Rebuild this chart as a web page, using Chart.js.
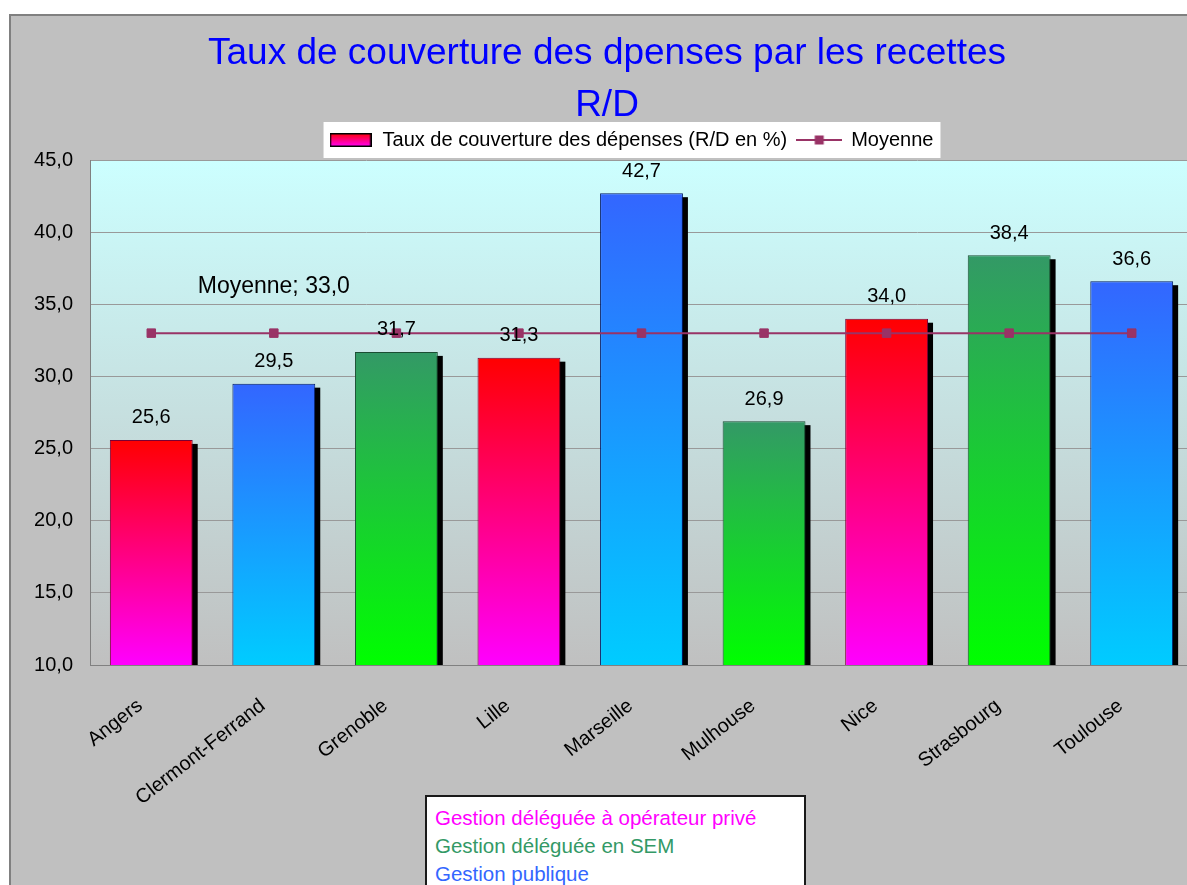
<!DOCTYPE html>
<html>
<head>
<meta charset="utf-8">
<script src="https://cdn.jsdelivr.net/npm/chart.js@4.4.1/dist/chart.umd.min.js"></script>
<style>
html,body{margin:0;padding:0;background:#fff;overflow:hidden;width:1187px;height:885px;}
#frame{position:absolute;left:9px;top:14px;width:1200px;height:900px;background:#c0c0c0;border-left:2px solid #808080;border-top:2px solid #808080;}
#c{position:absolute;left:0;top:0;}
#note{position:absolute;left:425px;top:795px;width:381px;height:120px;background:#fff;border:2px solid #1a1a1a;box-sizing:border-box;padding:7px 0 0 8px;font:20.5px "Liberation Sans",Arial,sans-serif;line-height:28px;}
</style>
</head>
<body>
<div id="frame"></div>
<canvas id="c" width="1200" height="885"></canvas>
<div id="note"></div>
<script>
// ---------- data ----------
const categories = ['Angers', 'Clermont-Ferrand', 'Grenoble', 'Lille', 'Marseille', 'Mulhouse', 'Nice', 'Strasbourg', 'Toulouse'];
const tauxValues = [25.6, 29.5, 31.7, 31.3, 42.7, 26.9, 34.0, 38.4, 36.6];
const gestionTypes = ['prive', 'public', 'sem', 'prive', 'public', 'sem', 'prive', 'sem', 'public'];
const moyenneValues = [33.0, 33.0, 33.0, 33.0, 33.0, 33.0, 33.0, 33.0, 33.0];
const yMin = 10;
const yMax = 45;
const yStep = 5;
const titleLines = ['Taux de couverture des dpenses par les recettes', 'R/D'];
const seriesNames = ['Taux de couverture des dépenses (R/D en %)', 'Moyenne'];
const gestionNotes = ['Gestion déléguée à opérateur privé', 'Gestion déléguée en SEM', 'Gestion publique'];
const gestionNoteKeys = ['prive', 'sem', 'public'];

// ---------- styles ----------
const FONT = '"Liberation Sans", Arial, sans-serif';
const palette = {
  prive:  { top: '#ff0000', bottom: '#ff00ff', border: '#7a0033', text: '#ff00ff' },
  sem:    { top: '#339966', bottom: '#00ff00', border: '#1a4d33', text: '#339966' },
  public: { top: '#3366ff', bottom: '#00ccff', border: '#001a66', text: '#3366ff' }
};
const lineColor = '#993366';
const fmt = v => v.toFixed(1).replace('.', ',');

// bottom note (HTML text)
const note = document.getElementById('note');
gestionNotes.forEach((t, i) => {
  const d = document.createElement('div');
  d.textContent = t;
  d.style.color = palette[gestionNoteKeys[i]].text;
  note.appendChild(d);
});

// legend symbols
function makeBoxSymbol() {
  const c = document.createElement('canvas');
  c.width = 42; c.height = 14;
  const x = c.getContext('2d');
  const g = x.createLinearGradient(0, 0, 0, 14);
  g.addColorStop(0, palette.prive.top);
  g.addColorStop(1, palette.prive.bottom);
  x.fillStyle = g;
  x.fillRect(0, 0, 42, 14);
  x.strokeStyle = '#000';
  x.lineWidth = 1.5;
  x.strokeRect(0.75, 0.75, 40.5, 12.5);
  return c;
}
function makeLineSymbol() {
  const c = document.createElement('canvas');
  c.width = 46; c.height = 12;
  const x = c.getContext('2d');
  x.strokeStyle = lineColor;
  x.lineWidth = 2;
  x.beginPath(); x.moveTo(0, 6); x.lineTo(46, 6); x.stroke();
  x.fillStyle = lineColor;
  x.fillRect(18.5, 1.5, 9, 9);
  return c;
}
const boxSym = makeBoxSymbol();
const lineSym = makeLineSymbol();

function barGradient(ctx) {
  const chart = ctx.chart;
  const key = gestionTypes[ctx.dataIndex];
  const p = palette[key] || palette.public;
  const area = chart.chartArea;
  if (!area || ctx.type !== 'data') return p.top;
  const yTop = chart.scales.y.getPixelForValue(ctx.raw);
  const g = chart.ctx.createLinearGradient(0, yTop, 0, area.bottom);
  g.addColorStop(0, p.top);
  g.addColorStop(1, p.bottom);
  return g;
}

const decor = {
  id: 'decor',
  afterLayout(chart) {
    if (chart.titleBlock) { chart.titleBlock.left += 10; chart.titleBlock.right += 10; }
    if (chart.legend) { chart.legend.left += 34; chart.legend.right += 34; }
  },
  beforeDraw(chart) {
    const { ctx, chartArea: a } = chart;
    ctx.save();
    const g = ctx.createLinearGradient(0, a.top, 0, a.bottom);
    g.addColorStop(0, '#ccffff');
    g.addColorStop(1, '#c0c0c0');
    ctx.fillStyle = g;
    ctx.fillRect(a.left, a.top, a.right - a.left, a.bottom - a.top);
    const lg = chart.legend;
    const hb = lg && lg.legendHitBoxes;
    if (hb && hb.length) {
      const l = Math.min(...hb.map(h => h.left)) - 5;
      const r = Math.max(...hb.map(h => h.left + h.width)) + 7;
      ctx.fillStyle = '#ffffff';
      ctx.fillRect(l, lg.top + 2, r - l, lg.bottom - lg.top - 4);
    }
    ctx.restore();
  },
  beforeDatasetsDraw(chart) {
    const { ctx, chartArea: a } = chart;
    const meta = chart.getDatasetMeta(0);
    ctx.save();
    ctx.beginPath();
    ctx.rect(a.left, a.top, a.right - a.left, a.bottom - a.top);
    ctx.clip();
    ctx.fillStyle = '#000';
    meta.data.forEach(bar => {
      const { x, y, width, base } = bar.getProps(['x', 'y', 'width', 'base'], true);
      ctx.fillRect(x - width / 2 + 5, y + 4, width, base - y);
    });
    ctx.restore();
  },
  afterDatasetsDraw(chart) {
    const { ctx } = chart;
    ctx.save();
    ctx.fillStyle = '#000';
    ctx.textAlign = 'center';
    ctx.textBaseline = 'middle';
    ctx.font = '20px ' + FONT;
    chart.getDatasetMeta(0).data.forEach((bar, i) => {
      ctx.fillText(fmt(tauxValues[i]), bar.x, bar.y - 22);
    });
    const p = chart.getDatasetMeta(1).data[1];
    ctx.font = '23px ' + FONT;
    ctx.fillText('Moyenne; ' + fmt(moyenneValues[1]), p.x, p.y - 46);
    ctx.restore();
  }
};

Chart.defaults.font.family = FONT;

new Chart(document.getElementById('c'), {
  data: {
    labels: categories,
    datasets: [
      {
        type: 'bar',
        label: seriesNames[0],
        data: tauxValues,
        order: 1,
        backgroundColor: barGradient,
        borderColor: ctx => (palette[gestionTypes[ctx.dataIndex]] || palette.public).border,
        borderWidth: 1,
        borderSkipped: false,
        categoryPercentage: 1,
        barPercentage: 0.676
      },
      {
        type: 'line',
        label: seriesNames[1],
        data: moyenneValues,
        order: 0,
        borderColor: lineColor,
        borderWidth: 2,
        tension: 0,
        fill: false,
        pointStyle: 'rect',
        pointRadius: 6,
        pointBorderWidth: 1,
        pointBackgroundColor: lineColor,
        pointBorderColor: lineColor
      }
    ]
  },
  options: {
    responsive: false,
    animation: false,
    layout: { padding: { left: 0, right: 6, top: 0, bottom: 0 } },
    plugins: {
      title: {
        display: true,
        text: titleLines,
        color: '#0000ff',
        font: { family: FONT, size: 37, weight: 'normal', lineHeight: 52 / 37 },
        padding: { top: 28, bottom: -12 }
      },
      legend: {
        display: true,
        position: 'top',
        onClick: null,
        labels: {
          color: '#000',
          font: { family: FONT, size: 20 },
          padding: 10,
          usePointStyle: true,
          pointStyleWidth: 44,
          generateLabels: () => [
            { text: seriesNames[0], pointStyle: boxSym, fillStyle: palette.prive.top, strokeStyle: '#000', lineWidth: 0, hidden: false, datasetIndex: 0 },
            { text: seriesNames[1], pointStyle: lineSym, fillStyle: lineColor, strokeStyle: lineColor, lineWidth: 0, hidden: false, datasetIndex: 1 }
          ]
        }
      },
      tooltip: { enabled: false }
    },
    scales: {
      x: {
        grid: { display: false, drawTicks: false },
        border: { display: true, color: '#808080', width: 1 },
        ticks: {
          autoSkip: false,
          maxRotation: 38,
          minRotation: 38,
          padding: 29,
          labelOffset: -11,
          color: '#000',
          font: { family: FONT, size: 20 }
        },
        afterFit: s => { s.height = 220; }
      },
      y: {
        min: yMin,
        max: yMax,
        ticks: {
          stepSize: yStep,
          padding: 17,
          color: '#000',
          font: { family: FONT, size: 20 },
          callback: v => fmt(v)
        },
        grid: { color: '#999999', lineWidth: 1, drawTicks: false },
        border: { display: true, color: '#808080', width: 1 },
        afterFit: s => { s.width = 90; }
      }
    }
  },
  plugins: [decor]
});
</script>
</body>
</html>
